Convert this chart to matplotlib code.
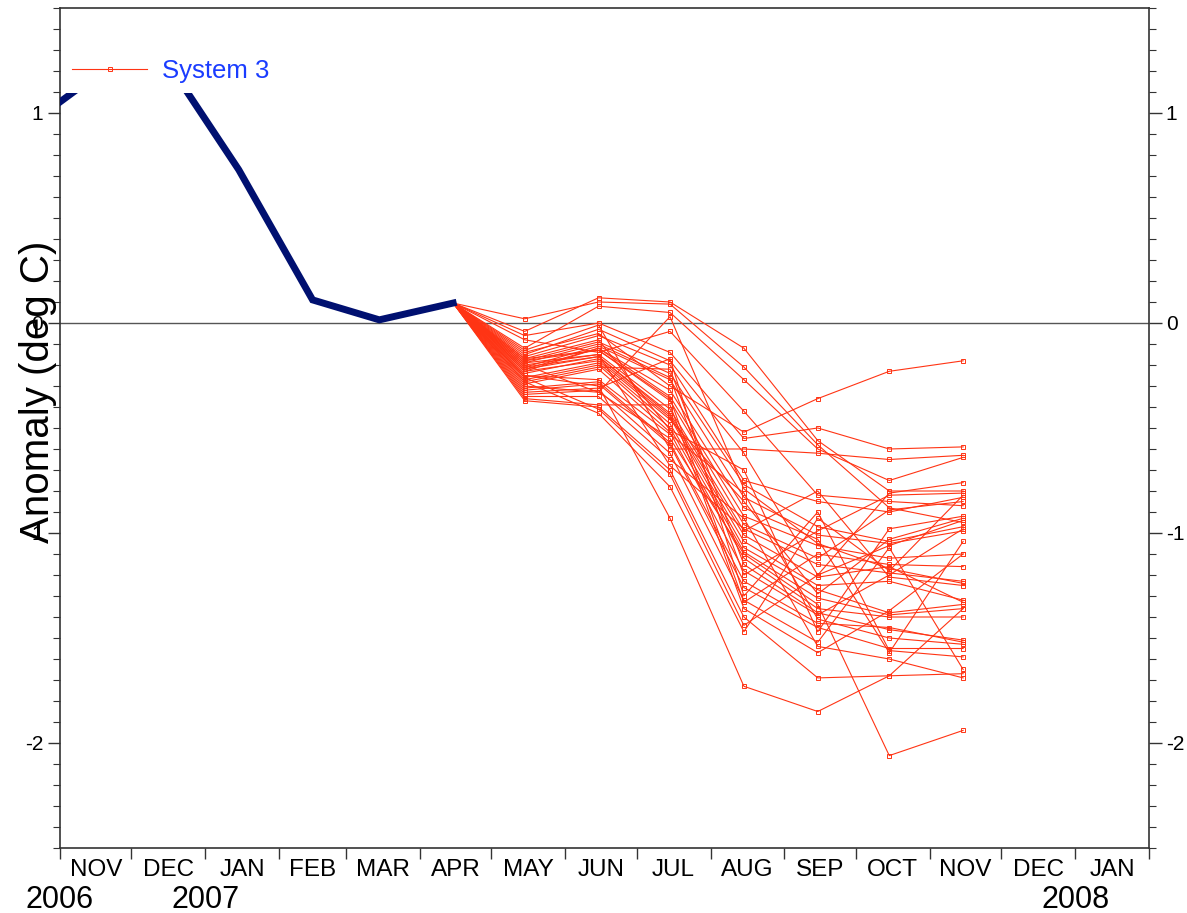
import datetime as dt
import matplotlib
matplotlib.use("Agg")
import matplotlib.pyplot as plt
import matplotlib.dates as mdates
import matplotlib.transforms as mtransforms
from matplotlib.ticker import MultipleLocator, FixedLocator

plt.rcParams['font.family'] = ['Liberation Sans', 'DejaVu Sans']
plt.rcParams['axes.unicode_minus'] = False

# observed anomaly (mid-month), Oct 2006 .. Apr 2007
obs_months = [(2006, 10), (2006, 11), (2006, 12), (2007, 1), (2007, 2), (2007, 3), (2007, 4)]
obs_vals = [0.91, 1.17, 1.26, 0.73, 0.11, 0.015, 0.095]

# forecast members, one list per target month (index = member)
fc_months = [(2007, 4), (2007, 5), (2007, 6), (2007, 7), (2007, 8), (2007, 9), (2007, 10), (2007, 11)]
may = [-0.14, -0.30, -0.25, -0.04, 0.02, -0.12, -0.20, -0.08, -0.06, -0.13,
       -0.15, -0.16, -0.17, -0.18, -0.19, -0.21, -0.22, -0.23, -0.17, -0.18,
       -0.19, -0.20, -0.21, -0.22, -0.24, -0.23, -0.26, -0.27, -0.28, -0.29,
       -0.25, -0.31, -0.32, -0.33, -0.34, -0.35, -0.36, -0.37, -0.26, -0.28]
jun = [-0.05, -0.33, -0.30, 0.12, 0.10, 0.08, -0.33, -0.14, 0.00, -0.01,
       -0.03, -0.06, -0.08, -0.09, -0.10, -0.11, -0.12, -0.12, -0.13, -0.13,
       -0.15, -0.15, -0.16, -0.16, -0.17, -0.18, -0.19, -0.20, -0.21, -0.22,
       -0.27, -0.28, -0.29, -0.31, -0.32, -0.35, -0.39, -0.40, -0.41, -0.43]
jul = [-0.30, -0.55, -0.93, 0.10, 0.09, 0.05, 0.03, -0.04, -0.14, -0.60,
       -0.18, -0.20, -0.51, -0.24, -0.26, -0.27, -0.32, -0.35, -0.36, -0.37,
       -0.68, -0.41, -0.43, -0.44, -0.45, -0.46, -0.48, -0.50, -0.22, -0.52,
       -0.53, -0.57, -0.58, -0.17, -0.62, -0.65, -0.39, -0.70, -0.72, -0.78]
aug = [-0.52, -1.10, -1.73, -0.12, -0.21, -0.27, -0.79, -0.42, -0.55, -0.60,
       -0.62, -0.75, -0.70, -0.77, -1.20, -0.83, -0.88, -0.92, -1.33, -0.96,
       -0.98, -0.99, -1.01, -1.04, -1.07, -0.85, -1.09, -1.12, -1.15, -1.18,
       -0.81, -1.23, -1.26, -1.30, -1.32, -0.93, -1.36, -1.40, -1.44, -1.47]
sep = [-0.36, -1.34, -1.85, -0.56, -0.58, -0.60, -1.05, -0.82, -0.50, -0.62,
       -1.20, -0.85, -1.47, -0.97, -0.99, -1.01, -1.03, -1.06, -1.10, -1.12,
       -1.15, -0.80, -1.21, -1.25, -1.27, -1.29, -1.31, -1.36, -1.38, -1.39,
       -1.41, -1.43, -1.45, -0.90, -1.52, -1.54, -1.57, -1.69, -1.20, -0.93]
octo = [-0.23, -2.06, -1.68, -0.80, -0.88, -0.75, -1.17, -0.85, -0.60, -0.65,
        -0.81, -0.90, -0.98, -1.04, -0.82, -1.05, -1.57, -1.12, -1.15, -0.89,
        -1.19, -1.21, -1.16, -1.23, -1.38, -1.03, -1.39, -1.40, -1.46, -1.20,
        -1.50, -1.45, -1.55, -1.56, -1.07, -1.60, -1.37, -1.68, -1.06, -1.18]
nov = [-0.18, -1.94, -1.67, -0.80, -0.95, -0.64, -1.24, -0.87, -0.59, -0.63,
       -0.76, -0.83, -0.92, -0.97, -0.81, -0.99, -1.04, -1.10, -1.16, -0.85,
       -1.23, -1.25, -1.33, -1.32, -1.34, -0.93, -1.36, -1.40, -1.51, -0.98,
       -1.53, -1.52, -1.55, -1.59, -1.65, -1.69, -1.10, -1.36, -0.94, -0.82]

month_labels = ['NOV', 'DEC', 'JAN', 'FEB', 'MAR', 'APR', 'MAY', 'JUN',
                'JUL', 'AUG', 'SEP', 'OCT', 'NOV', 'DEC', 'JAN']
year_labels = [((2006, 11), '2006'), ((2007, 1), '2007'), ((2008, 1), '2008')]


def mid(ym):
    return dt.datetime(ym[0], ym[1], 15)


fig = plt.figure(figsize=(11.87, 9.13), dpi=100)
ax = fig.add_axes([60 / 1187, 65 / 913, 1089 / 1187, 840 / 913])

red = '#ff3414'
fc_x = [mid(m) for m in fc_months]
for i in range(len(may)):
    vals = [obs_vals[-1], may[i], jun[i], jul[i], aug[i], sep[i], octo[i], nov[i]]
    ax.plot(fc_x, vals, color=red, lw=0.8, marker='s', ms=3.2,
            mfc='none', mec=red, mew=0.7, zorder=3)

ax.axhline(0, color='#555555', lw=1.0, zorder=2)
ax.plot([mid(m) for m in obs_months], obs_vals, color='#001070', lw=5,
        solid_joinstyle='miter', zorder=4)

# legend proxy
leg_line, = ax.plot([], [], color=red, lw=0.8, marker='s', ms=3.2,
                    mfc='none', mec=red, mew=0.7)
leg = ax.legend([leg_line], ['System 3'], loc='lower left',
                bbox_to_anchor=(0.002, 0.899), borderaxespad=0,
                fontsize=18.5, handlelength=2.9, handletextpad=0.6,
                frameon=True, facecolor='white', edgecolor='none', framealpha=1)
leg.set_zorder(5)
for t in leg.get_texts():
    t.set_color('#1a3cff')

ax.set_xlim(dt.datetime(2006, 11, 1), dt.datetime(2008, 2, 1))
ax.set_ylim(-2.5, 1.5)

# month boundaries as ticks, labels at mid-month
bounds = [mdates.date2num(dt.datetime(2006 + (10 + k) // 12, (10 + k) % 12 + 1, 1)) for k in range(16)]
ax.xaxis.set_major_locator(FixedLocator(bounds))
ax.xaxis.set_major_formatter(plt.NullFormatter())
mids = [(bounds[k] + bounds[k + 1]) / 2 for k in range(15)]
ax.xaxis.set_minor_locator(FixedLocator(mids))
ax.set_xticklabels(month_labels, minor=True)
ax.tick_params(axis='x', which='major', direction='out', length=8, width=1, color='#333333')
ax.tick_params(axis='x', which='minor', length=0, pad=8)
for lab in ax.get_xticklabels(minor=True):
    lab.set_fontsize(17.5)

ax.yaxis.set_major_locator(MultipleLocator(1))
ax.yaxis.set_minor_locator(MultipleLocator(0.1))
ax.tick_params(axis='y', which='both', left=True, right=True,
               labelleft=True, labelright=True, direction='out', color='#333333')
ax.tick_params(axis='y', which='major', length=9, width=1, labelsize=15, pad=3)
ax.tick_params(axis='y', which='minor', length=5, width=0.8)

for sp in ax.spines.values():
    sp.set_color('#333333')
    sp.set_linewidth(1.2)

trans = mtransforms.blended_transform_factory(ax.transData, ax.transAxes)
for ym, txt in year_labels:
    x = dt.datetime(ym[0], ym[1], 1)
    ax.text(x, -0.062, txt, transform=trans, ha='center', va='center', fontsize=22)

# axis title sits over the left tick labels, as in the original
fig.text(38 / 1187, 1 - 392 / 913, 'Anomaly (deg C)', rotation=90,
         ha='center', va='center', fontsize=29)

fig.savefig('out.png', dpi=100)
